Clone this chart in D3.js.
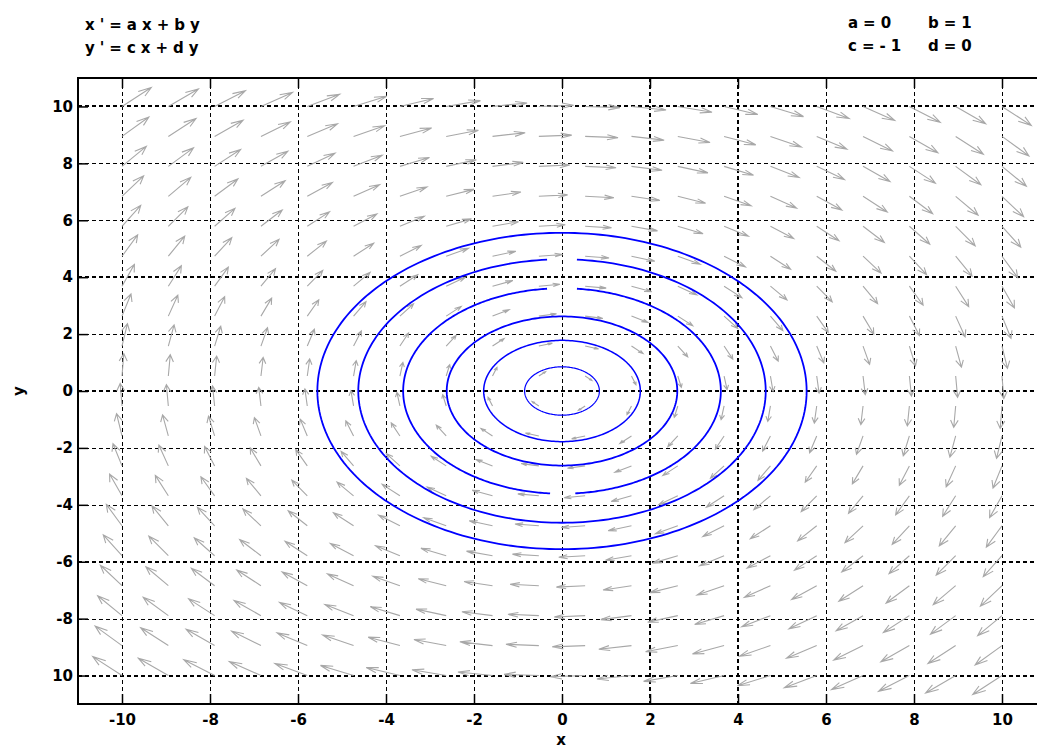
<!DOCTYPE html>
<html>
<head>
<meta charset="utf-8">
<script src="https://cdn.jsdelivr.net/npm/d3@7"></script>
<style>
  body { margin: 0; background: #fff; }
  svg { display: block; }
  text { font-family: "DejaVu Sans", sans-serif; font-weight: bold; fill: #000; }
</style>
</head>
<body>
<svg id="chart" width="1037" height="750"></svg>
<script>
// Linear system x' = a x + b y, y' = c x + d y
const equationLines = ["x'=ax+by", "y'=cx+dy"];
const paramNames = ["a", "b", "c", "d"];
const paramValues = [0, 1, -1, 0];

// Axis ticks
const xTicks = [-10, -8, -6, -4, -2, 0, 2, 4, 6, 8, 10];
const xTickLabels = ["-10", "-8", "-6", "-4", "-2", "0", "2", "4", "6", "8", "10"];
const yTicks = [10, 8, 6, 4, 2, 0, -2, -4, -6, -8, -10];
const yTickLabels = ["10", "8", "6", "4", "2", "0", "-2", "-4", "-6", "-8", "10"];

// Direction-field sample points (same in x and y)
const fieldX = [-10, -8.947, -7.895, -6.842, -5.789, -4.737, -3.684, -2.632, -1.579, -0.526,
                0.526, 1.579, 2.632, 3.684, 4.737, 5.789, 6.842, 7.895, 8.947, 10];
const fieldY = [-10, -8.947, -7.895, -6.842, -5.789, -4.737, -3.684, -2.632, -1.579, -0.526,
                0.526, 1.579, 2.632, 3.684, 4.737, 5.789, 6.842, 7.895, 8.947, 10];

// Solution orbits: radius and the angular span covered (degrees, clockwise from start to end)
const orbitRadius = [5.56, 4.63, 3.61, 3.61, 2.62, 1.78, 0.85];
const orbitStart  = [90, 85.8, 84.6, -94.3, 90, 90, 90];
const orbitEnd    = [-270, -265.8, -85.2, -264.6, -270, -270, -270];

const svg = d3.select("#chart");
const plotLeft = 78, plotTop = 78, plotBottom = 704, plotRight = 1046;

const x = d3.scaleLinear().domain([-11, 11]).range([plotLeft, plotRight]);
const y = d3.scaleLinear().domain([-11, 11]).range([plotBottom, plotTop]);

svg.append("rect").attr("width", 1037).attr("height", 750).attr("fill", "#fff");

svg.append("defs").append("clipPath").attr("id", "plotClip")
  .append("rect").attr("x", plotLeft).attr("y", plotTop)
  .attr("width", plotRight - plotLeft).attr("height", plotBottom - plotTop);

const plot = svg.append("g").attr("clip-path", "url(#plotClip)");

// Grid
const heavyX = new Set([2, 4]);
const heavyY = new Set([10, 4, 0, -6, -10]);
const snap = (v, w) => w % 2 === 1 ? Math.round(v) + 0.5 : Math.round(v);

plot.append("g").selectAll("line").data(xTicks).join("line")
  .attr("x1", d => snap(x(d), heavyX.has(d) ? 2 : 1))
  .attr("x2", d => snap(x(d), heavyX.has(d) ? 2 : 1))
  .attr("y1", plotTop).attr("y2", plotBottom)
  .attr("stroke", "#000").attr("stroke-width", d => heavyX.has(d) ? 2 : 1)
  .attr("stroke-dasharray", "4,3");

plot.append("g").selectAll("line").data(yTicks).join("line")
  .attr("y1", d => snap(y(d), heavyY.has(d) ? 2 : 1))
  .attr("y2", d => snap(y(d), heavyY.has(d) ? 2 : 1))
  .attr("x1", plotLeft).attr("x2", plotRight)
  .attr("stroke", "#000").attr("stroke-width", d => heavyY.has(d) ? 2 : 1)
  .attr("stroke-dasharray", "4,3");

// Direction field arrows
const [pa, pb, pc, pd] = paramValues;
const arrowScale = 0.25, headAlpha = 0.33, headBeta = 0.35;
const arrows = [];
fieldX.forEach(gx => fieldY.forEach(gy => {
  const u = pa * gx + pb * gy, v = pc * gx + pd * gy;
  const mag = Math.hypot(u, v);
  if (mag === 0) return;
  const len = arrowScale * Math.sqrt(mag);
  const du = u / mag * len, dv = v / mag * len;
  const tx = gx + du, ty = gy + dv;
  const p = d3.path();
  p.moveTo(x(gx), y(gy));
  p.lineTo(x(tx), y(ty));
  p.moveTo(x(tx - headAlpha * (du + headBeta * dv)), y(ty - headAlpha * (dv - headBeta * du)));
  p.lineTo(x(tx), y(ty));
  p.lineTo(x(tx - headAlpha * (du - headBeta * dv)), y(ty - headAlpha * (dv + headBeta * du)));
  arrows.push(p.toString());
}));

plot.append("g").selectAll("path").data(arrows).join("path")
  .attr("d", d => d).attr("fill", "none")
  .attr("stroke", "#a8a8a8").attr("stroke-width", 1.1);

// Orbits
const orbitLine = d3.line().x(p => x(p[0])).y(p => y(p[1]));
const orbits = orbitRadius.map((r, i) => {
  const a0 = orbitStart[i] * Math.PI / 180, a1 = orbitEnd[i] * Math.PI / 180;
  const n = 240;
  return d3.range(n + 1).map(k => {
    const t = a0 + (a1 - a0) * k / n;
    return [r * Math.cos(t), r * Math.sin(t)];
  });
});
plot.append("g").selectAll("path").data(orbits).join("path")
  .attr("d", orbitLine).attr("fill", "none").attr("stroke", "#0000ff")
  .attr("stroke-width", (d, i) => orbitRadius[i] < 1 ? 1.2 : (orbitRadius[i] < 2 ? 1.5 : 1.8));

// Axes (inward ticks)
const xAxis = svg.append("g").attr("transform", `translate(0,${plotBottom})`)
  .call(d3.axisBottom(x).tickValues(xTicks).tickFormat((d, i) => xTickLabels[i])
    .tickSize(-10).tickPadding(10));
const xAxisTop = svg.append("g").attr("transform", `translate(0,${plotTop})`)
  .call(d3.axisTop(x).tickValues(xTicks).tickFormat("").tickSize(-10));
const yAxis = svg.append("g").attr("transform", `translate(${plotLeft},0)`)
  .call(d3.axisLeft(y).tickValues(yTicks).tickFormat((d, i) => yTickLabels[i])
    .tickSize(-10).tickPadding(5));

[xAxis, xAxisTop, yAxis].forEach(g => {
  g.select(".domain").remove();
  g.selectAll(".tick line").attr("stroke", "#000").attr("stroke-width", 1.5);
  g.selectAll(".tick text").style("font-family", "'DejaVu Sans', sans-serif")
    .style("font-weight", "bold").style("font-size", "15px").attr("fill", "#000");
});

// Frame
svg.append("line").attr("x1", plotLeft - 1).attr("x2", 1037).attr("y1", plotTop).attr("y2", plotTop)
  .attr("stroke", "#000").attr("stroke-width", 2);
svg.append("line").attr("x1", plotLeft - 1).attr("x2", 1037).attr("y1", plotBottom).attr("y2", plotBottom)
  .attr("stroke", "#000").attr("stroke-width", 2);
svg.append("line").attr("x1", plotLeft).attr("x2", plotLeft).attr("y1", plotTop).attr("y2", plotBottom)
  .attr("stroke", "#000").attr("stroke-width", 2);

// Axis titles
svg.append("text").attr("x", 561).attr("y", 745).attr("text-anchor", "middle")
  .style("font-size", "15px").text("x");
svg.append("text").attr("transform", "translate(24,391) rotate(-90)").attr("text-anchor", "middle")
  .style("font-size", "15px").text("y");

// Equations and parameters
svg.append("g").selectAll("text").data(equationLines).join("text")
  .attr("x", 85).attr("y", (d, i) => 30 + i * 23)
  .style("font-size", "15px").style("letter-spacing", "5px").text(d => d);

const paramCols = [848, 928];
svg.append("g").selectAll("text").data(paramNames).join("text")
  .attr("x", (d, i) => paramCols[i % 2]).attr("y", (d, i) => 28 + Math.floor(i / 2) * 23)
  .style("font-size", "15px").style("letter-spacing", "5px")
  .text((d, i) => `${d}=${paramValues[i]}`);
</script>
</body>
</html>
